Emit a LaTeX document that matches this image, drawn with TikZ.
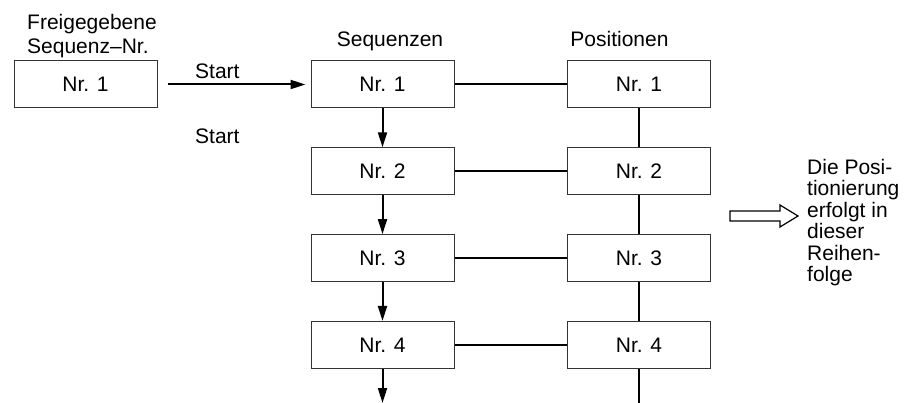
\documentclass[tikz,border=0pt]{standalone}
\usepackage{fontspec}
\setmainfont{Liberation Sans}
\usetikzlibrary{arrows.meta,positioning}

\begin{document}
\begin{tikzpicture}[x=1pt, y=-1pt, font=\fontsize{21}{21.5}\selectfont, >={Triangle[length=15pt,width=9pt]},
  box/.style={draw=black!80, line width=1pt, minimum width=143pt, minimum height=47pt, inner sep=0pt},
  link/.style={line width=2pt},
  flow/.style={->, line width=2pt},
  hdr/.style={anchor=base, inner sep=0pt}]
  \useasboundingbox (0,0) rectangle (915,403);
  % ---------- released sequence ----------
  \node[anchor=west, align=left, inner sep=0pt, font=\fontsize{21}{24}\selectfont] (rel) at (27,36) {Freigegebene\\Sequenz--Nr.};
  \node[box] (r1) at (85.5,84.5) {Nr. 1};
  \node[hdr, anchor=base west] (start1) at (195,79) {Start};
  \node[hdr, anchor=base west] (start2) at (195,144) {Start};
  % ---------- sequences and positions ----------
  \node[hdr] (seqhdr) at (390,47) {Sequenzen};
  \node[hdr] (poshdr) at (619.5,47) {Positionen};
  \foreach \i in {1,...,4}
    { \node[box] (seq\i) at ({382.5},{84.5+86.8*(\i-1)}) {Nr. \i};
      \node[box] (pos\i) at ({639},{84.5+86.8*(\i-1)}) {Nr. \i};
      \draw[link] (seq\i) -- (pos\i); }
  \foreach \i/\j in {1/2, 2/3, 3/4}
    { \draw[flow] (seq\i) -- (seq\j); \draw[link] (pos\i) -- (pos\j); }
  \coordinate (seqend) at (382.5,403);
  \coordinate (posend) at (639,403);
  \draw[flow] (seq4) -- (seqend);
  \draw[link] (pos4) -- (posend);
  \draw[flow, shorten <=10pt, shorten >=5pt] (r1) -- (seq1);
  % ---------- order note ----------
  \draw[line width=1.2pt] (730,211) -- (780,211) -- (780,205) -- (798,216) -- (780,227) -- (780,221) -- (730,221) -- cycle;
  \node[anchor=north west, align=left, inner sep=0pt] (order) at (807,159) {Die Posi-\\tionierung\\erfolgt in\\dieser\\Reihen-\\folge};
\end{tikzpicture}
\end{document}
